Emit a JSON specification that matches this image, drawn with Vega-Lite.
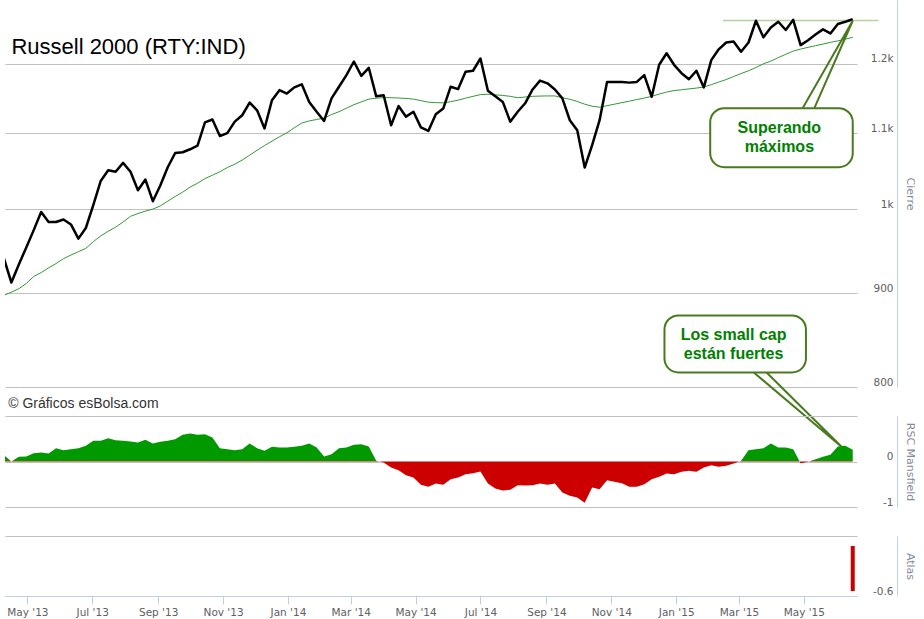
{
  "$schema": "https://vega.github.io/schema/vega-lite/v6.json",
  "background": "white",
  "padding": {"left": 5, "top": 0, "right": 0, "bottom": 0},
  "config": {"view": {"stroke": null}, "font": "Liberation Sans"},
  "spacing": 29,
  "bounds": "flush",
  "datasets": {
    "w": [
      {"d": "2013-04-09", "c": 940, "m": 897.5, "r": 0.139},
      {"d": "2013-04-16", "c": 912, "m": 901, "r": 0},
      {"d": "2013-04-23", "c": 933, "m": 905, "r": 0.103},
      {"d": "2013-04-30", "c": 953, "m": 911, "r": 0.11},
      {"d": "2013-05-07", "c": 974, "m": 919, "r": 0.183},
      {"d": "2013-05-14", "c": 996.5, "m": 923.5, "r": 0.198},
      {"d": "2013-05-21", "c": 984, "m": 929, "r": 0.176},
      {"d": "2013-05-28", "c": 984, "m": 934, "r": 0.293},
      {"d": "2013-06-04", "c": 987, "m": 939.8, "r": 0.249},
      {"d": "2013-06-11", "c": 981, "m": 944, "r": 0.271},
      {"d": "2013-06-18", "c": 963.7, "m": 948, "r": 0.293},
      {"d": "2013-06-25", "c": 976.6, "m": 952, "r": 0.344},
      {"d": "2013-07-02", "c": 1005, "m": 960, "r": 0.454},
      {"d": "2013-07-09", "c": 1036, "m": 967, "r": 0.454},
      {"d": "2013-07-16", "c": 1050, "m": 972.6, "r": 0.513},
      {"d": "2013-07-23", "c": 1048, "m": 977.6, "r": 0.469},
      {"d": "2013-07-30", "c": 1059.7, "m": 984, "r": 0.454},
      {"d": "2013-08-06", "c": 1048, "m": 991, "r": 0.44},
      {"d": "2013-08-13", "c": 1024, "m": 994.5, "r": 0.418},
      {"d": "2013-08-20", "c": 1037.8, "m": 997.5, "r": 0.476},
      {"d": "2013-08-27", "c": 1010, "m": 1000, "r": 0.396},
      {"d": "2013-09-03", "c": 1030, "m": 1004, "r": 0.432},
      {"d": "2013-09-10", "c": 1054, "m": 1010, "r": 0.454},
      {"d": "2013-09-17", "c": 1073, "m": 1016, "r": 0.491},
      {"d": "2013-09-24", "c": 1074, "m": 1021.5, "r": 0.586},
      {"d": "2013-10-01", "c": 1078, "m": 1028, "r": 0.615},
      {"d": "2013-10-08", "c": 1083, "m": 1033, "r": 0.586},
      {"d": "2013-10-15", "c": 1115, "m": 1039, "r": 0.6},
      {"d": "2013-10-22", "c": 1119, "m": 1043.5, "r": 0.527},
      {"d": "2013-10-29", "c": 1096, "m": 1048, "r": 0.293},
      {"d": "2013-11-05", "c": 1100, "m": 1053.5, "r": 0.271},
      {"d": "2013-11-12", "c": 1116, "m": 1058, "r": 0.249},
      {"d": "2013-11-19", "c": 1125, "m": 1063.5, "r": 0.271},
      {"d": "2013-11-26", "c": 1143, "m": 1070, "r": 0.396},
      {"d": "2013-12-03", "c": 1132, "m": 1076.7, "r": 0.293},
      {"d": "2013-12-10", "c": 1106.5, "m": 1083, "r": 0.234},
      {"d": "2013-12-17", "c": 1146.5, "m": 1089, "r": 0.322},
      {"d": "2013-12-24", "c": 1161, "m": 1095, "r": 0.308},
      {"d": "2013-12-31", "c": 1156, "m": 1100.5, "r": 0.308},
      {"d": "2014-01-07", "c": 1165, "m": 1107.5, "r": 0.322},
      {"d": "2014-01-14", "c": 1169.5, "m": 1114, "r": 0.344},
      {"d": "2014-01-21", "c": 1144, "m": 1117, "r": 0.396},
      {"d": "2014-01-28", "c": 1130, "m": 1119, "r": 0.308},
      {"d": "2014-02-04", "c": 1117, "m": 1121, "r": 0.11},
      {"d": "2014-02-11", "c": 1149, "m": 1126, "r": 0.161},
      {"d": "2014-02-18", "c": 1166, "m": 1130, "r": 0.293},
      {"d": "2014-02-25", "c": 1183, "m": 1135, "r": 0.308},
      {"d": "2014-03-04", "c": 1203.5, "m": 1140, "r": 0.366},
      {"d": "2014-03-11", "c": 1182, "m": 1144, "r": 0.381},
      {"d": "2014-03-18", "c": 1194, "m": 1148, "r": 0.33},
      {"d": "2014-03-25", "c": 1152, "m": 1149.3, "r": 0.015},
      {"d": "2014-04-01", "c": 1153.5, "m": 1150.3, "r": -0.022},
      {"d": "2014-04-08", "c": 1111, "m": 1150, "r": -0.132},
      {"d": "2014-04-15", "c": 1138, "m": 1149.6, "r": -0.19},
      {"d": "2014-04-22", "c": 1123, "m": 1149, "r": -0.3},
      {"d": "2014-04-29", "c": 1130, "m": 1148, "r": -0.352},
      {"d": "2014-05-06", "c": 1108, "m": 1145.8, "r": -0.513},
      {"d": "2014-05-13", "c": 1103, "m": 1143.6, "r": -0.557},
      {"d": "2014-05-20", "c": 1126.5, "m": 1143, "r": -0.484},
      {"d": "2014-05-27", "c": 1134.5, "m": 1142.6, "r": -0.513},
      {"d": "2014-06-03", "c": 1166, "m": 1144.3, "r": -0.388},
      {"d": "2014-06-10", "c": 1162.5, "m": 1146.5, "r": -0.352},
      {"d": "2014-06-17", "c": 1188, "m": 1149.4, "r": -0.278},
      {"d": "2014-06-24", "c": 1189.6, "m": 1152, "r": -0.256},
      {"d": "2014-07-01", "c": 1208, "m": 1154.5, "r": -0.22},
      {"d": "2014-07-08", "c": 1160, "m": 1155, "r": -0.484},
      {"d": "2014-07-15", "c": 1152, "m": 1154.2, "r": -0.593},
      {"d": "2014-07-22", "c": 1144, "m": 1153.3, "r": -0.637},
      {"d": "2014-07-29", "c": 1116, "m": 1152, "r": -0.623},
      {"d": "2014-08-05", "c": 1130, "m": 1150, "r": -0.52},
      {"d": "2014-08-12", "c": 1142, "m": 1151, "r": -0.527},
      {"d": "2014-08-19", "c": 1162, "m": 1152, "r": -0.52},
      {"d": "2014-08-26", "c": 1175, "m": 1152.4, "r": -0.484},
      {"d": "2014-09-02", "c": 1171, "m": 1152.6, "r": -0.513},
      {"d": "2014-09-09", "c": 1162, "m": 1152.6, "r": -0.484},
      {"d": "2014-09-16", "c": 1149, "m": 1150, "r": -0.681},
      {"d": "2014-09-23", "c": 1118, "m": 1147.8, "r": -0.755},
      {"d": "2014-09-30", "c": 1104, "m": 1144.6, "r": -0.791},
      {"d": "2014-10-07", "c": 1053.5, "m": 1140.7, "r": -0.908},
      {"d": "2014-10-14", "c": 1083.5, "m": 1137.8, "r": -0.571},
      {"d": "2014-10-21", "c": 1118, "m": 1136.4, "r": -0.608},
      {"d": "2014-10-28", "c": 1173, "m": 1138.6, "r": -0.41},
      {"d": "2014-11-04", "c": 1173, "m": 1140.7, "r": -0.447},
      {"d": "2014-11-11", "c": 1173, "m": 1143, "r": -0.476},
      {"d": "2014-11-18", "c": 1172, "m": 1145, "r": -0.557},
      {"d": "2014-11-25", "c": 1173, "m": 1147.4, "r": -0.557},
      {"d": "2014-12-02", "c": 1183, "m": 1149.5, "r": -0.498},
      {"d": "2014-12-09", "c": 1151.3, "m": 1152, "r": -0.388},
      {"d": "2014-12-16", "c": 1198.5, "m": 1155.3, "r": -0.337},
      {"d": "2014-12-23", "c": 1216, "m": 1158.2, "r": -0.264},
      {"d": "2014-12-30", "c": 1198.5, "m": 1160.4, "r": -0.278},
      {"d": "2015-01-06", "c": 1186, "m": 1161.5, "r": -0.227},
      {"d": "2015-01-13", "c": 1177, "m": 1162.8, "r": -0.205},
      {"d": "2015-01-20", "c": 1189.6, "m": 1164, "r": -0.227},
      {"d": "2015-01-27", "c": 1165, "m": 1165.5, "r": -0.132},
      {"d": "2015-02-03", "c": 1205.6, "m": 1169, "r": -0.081},
      {"d": "2015-02-10", "c": 1222, "m": 1172.8, "r": -0.117},
      {"d": "2015-02-17", "c": 1232.5, "m": 1176.5, "r": -0.095},
      {"d": "2015-02-24", "c": 1234, "m": 1181, "r": -0.044},
      {"d": "2015-03-03", "c": 1218.3, "m": 1185.4, "r": 0.015},
      {"d": "2015-03-10", "c": 1232.5, "m": 1189.5, "r": 0.249},
      {"d": "2015-03-17", "c": 1266.6, "m": 1194.4, "r": 0.271},
      {"d": "2015-03-24", "c": 1240.5, "m": 1200, "r": 0.293},
      {"d": "2015-03-31", "c": 1256, "m": 1204, "r": 0.396},
      {"d": "2015-04-07", "c": 1265, "m": 1209.4, "r": 0.308},
      {"d": "2015-04-14", "c": 1252, "m": 1214.4, "r": 0.308},
      {"d": "2015-04-21", "c": 1268, "m": 1219.3, "r": 0.271},
      {"d": "2015-04-28", "c": 1228.5, "m": 1222.4, "r": -0.04},
      {"d": "2015-05-05", "c": 1236, "m": 1225, "r": -0.007},
      {"d": "2015-05-12", "c": 1245, "m": 1227.6, "r": 0.051},
      {"d": "2015-05-19", "c": 1253, "m": 1230, "r": 0.103},
      {"d": "2015-05-26", "c": 1246.6, "m": 1232.7, "r": 0.147},
      {"d": "2015-06-02", "c": 1261.5, "m": 1235, "r": 0.33},
      {"d": "2015-06-09", "c": 1265, "m": 1237.7, "r": 0.344},
      {"d": "2015-06-16", "c": 1269, "m": 1240.5, "r": 0.256}
    ],
    "boxes": [
      {"a": "2015-02-02", "b": "2015-06-16", "top": 1135, "bot": 1054},
      {"a": "2014-12-21", "b": "2015-05-03", "top": 875.2, "bot": 814.7}
    ],
    "tails": [
      {"g": 1, "o": 1, "d": "2015-04-30", "v": 1135.4},
      {"g": 1, "o": 2, "d": "2015-06-16", "v": 1266.6},
      {"g": 1, "o": 3, "d": "2015-05-11", "v": 1135.4},
      {"g": 2, "o": 1, "d": "2015-03-15", "v": 814.7},
      {"g": 2, "o": 2, "d": "2015-06-06", "v": 741.7},
      {"g": 2, "o": 3, "d": "2015-03-27", "v": 814.7}
    ],
    "notes": [
      {"d": "2015-04-08", "v": 1107, "t": "Superando"},
      {"d": "2015-04-08", "v": 1081, "t": "máximos"},
      {"d": "2015-02-24", "v": 853.4, "t": "Los small cap"},
      {"d": "2015-02-24", "v": 834.3, "t": "están fuertes"}
    ]
  },
  "vconcat": [
    {
      "width": 852,
      "height": 387,
      "layer": [
        {
          "data": {"name": "w"},
          "mark": {"type": "line", "color": "#339933", "strokeWidth": 1, "clip": true},
          "encoding": {
            "x": {"field": "d", "type": "temporal", "axis": null,
              "scale": {"type": "utc", "domain": [{"year": 2013, "month": 4, "date": 10, "utc": true}, {"year": 2015, "month": 6, "date": 20, "utc": true}]}},
            "y": {
              "field": "m", "type": "quantitative", "title": "Cierre",
              "scale": {"type": "log", "domain": [800, 1300], "nice": false},
              "axis": {
                "orient": "right", "offset": 40,
                "values": [800, 900, 1000, 1100, 1200],
                "labelExpr": "datum.value >= 1000 ? (datum.value / 1000) + 'k' : '' + datum.value",
                "labelAlign": "right", "labelPadding": -4, "labelBaseline": "bottom",
                "labelColor": "#606060", "labelFont": "DejaVu Sans", "labelFontSize": 10.5,
                "ticks": false, "domainColor": "#C0D0E0", "gridColor": "#C0C0C0",
                "titleAngle": 90, "titleColor": "#7f8c99", "titleFont": "DejaVu Sans",
                "titleFontSize": 11, "titleFontWeight": "normal", "titlePadding": 7
              }
            }
          }
        },
        {
          "data": {"values": [{"a": "2015-02-14", "b": "2015-07-10", "v": 1267}]},
          "mark": {"type": "rule", "color": "#b3d39c", "strokeWidth": 1.5},
          "encoding": {
            "x": {"field": "a", "type": "temporal"},
            "x2": {"field": "b"},
            "y": {"field": "v", "type": "quantitative", "title": "Cierre"}
          }
        },
        {
          "data": {"name": "w"},
          "mark": {"type": "line", "color": "#000000", "strokeWidth": 2.5, "strokeJoin": "round", "clip": true},
          "encoding": {
            "x": {"field": "d", "type": "temporal"},
            "y": {"field": "c", "type": "quantitative", "title": "Cierre"}
          }
        },
        {
          "data": {"name": "tails"},
          "mark": {"type": "line", "color": "#4a7a1e", "strokeWidth": 2},
          "encoding": {
            "x": {"field": "d", "type": "temporal"},
            "y": {"field": "v", "type": "quantitative", "title": "Cierre"},
            "detail": {"field": "g"},
            "order": {"field": "o"}
          }
        },
        {
          "data": {"name": "boxes"},
          "mark": {"type": "rect", "fill": "white", "stroke": "#4a7a1e", "strokeWidth": 2, "cornerRadius": 14},
          "encoding": {
            "x": {"field": "a", "type": "temporal"},
            "x2": {"field": "b"},
            "y": {"field": "top", "type": "quantitative", "title": "Cierre"},
            "y2": {"field": "bot"}
          }
        },
        {
          "data": {"name": "notes"},
          "mark": {"type": "text", "font": "Liberation Sans", "fontSize": 16, "fontWeight": "bold", "color": "#008000", "align": "center", "baseline": "middle"},
          "encoding": {
            "x": {"field": "d", "type": "temporal"},
            "y": {"field": "v", "type": "quantitative", "title": "Cierre"},
            "text": {"field": "t"}
          }
        },
        {
          "data": {"values": [{"d": "2013-04-16", "v": 1225.5, "t": "Russell 2000 (RTY:IND)"}]},
          "mark": {"type": "text", "font": "Liberation Sans", "fontSize": 22, "color": "#000000", "align": "left", "baseline": "middle"},
          "encoding": {
            "x": {"field": "d", "type": "temporal"},
            "y": {"field": "v", "type": "quantitative", "title": "Cierre"},
            "text": {"field": "t"}
          }
        },
        {
          "data": {"values": [{"d": "2013-04-13", "v": 783.5, "t": "© Gráficos esBolsa.com"}]},
          "mark": {"type": "text", "font": "Liberation Sans", "fontSize": 14, "color": "#333333", "align": "left", "baseline": "middle"},
          "encoding": {
            "x": {"field": "d", "type": "temporal"},
            "y": {"field": "v", "type": "quantitative", "title": "Cierre"},
            "text": {"field": "t"}
          }
        }
      ]
    },
    {
      "width": 852,
      "height": 91,
      "data": {"name": "w"},
      "mark": {
        "type": "area", "clip": true,
        "fill": {
          "gradient": "linear", "x1": 0, "y1": 0, "x2": 0, "y2": 1,
          "stops": [
            {"offset": 0, "color": "#009900"},
            {"offset": 0.4038, "color": "#009900"},
            {"offset": 0.4038, "color": "#cc0000"},
            {"offset": 1, "color": "#cc0000"}
          ]
        }
      },
      "encoding": {
        "x": {"field": "d", "type": "temporal", "axis": null,
          "scale": {"type": "utc", "domain": [{"year": 2013, "month": 4, "date": 10, "utc": true}, {"year": 2015, "month": 6, "date": 20, "utc": true}]}},
        "y": {
          "field": "r", "type": "quantitative", "title": "RSC Mansfield",
          "scale": {"domain": [-1, 1], "nice": false},
          "axis": {
            "orient": "right", "offset": 40,
            "values": [-1, 0, 1],
            "labelExpr": "datum.value == 0 ? '0' : datum.value == -1 ? '-1' : ''",
            "labelAlign": "right", "labelPadding": -4, "labelBaseline": "bottom",
            "labelColor": "#606060", "labelFont": "DejaVu Sans", "labelFontSize": 10.5,
            "ticks": false, "domainColor": "#C0D0E0", "gridColor": "#C0C0C0",
            "titleAngle": 90, "titleColor": "#7f8c99", "titleFont": "DejaVu Sans",
            "titleFontSize": 11, "titleFontWeight": "normal", "titlePadding": 7
          }
        },
        "y2": {"datum": 0}
      }
    },
    {
      "width": 852,
      "height": 60,
      "data": {"values": [{"d": "2015-06-16", "a": -0.1, "b": -0.55}]},
      "mark": {"type": "rule", "color": "#cc0000", "strokeWidth": 4},
      "encoding": {
        "x": {
          "field": "d", "type": "temporal",
          "scale": {"type": "utc", "domain": [{"year": 2013, "month": 4, "date": 10, "utc": true}, {"year": 2015, "month": 6, "date": 20, "utc": true}]},
          "axis": {
            "values": [
              {"year": 2013, "month": 5, "date": 1, "utc": true},
              {"year": 2013, "month": 7, "date": 1, "utc": true},
              {"year": 2013, "month": 9, "date": 1, "utc": true},
              {"year": 2013, "month": 11, "date": 1, "utc": true},
              {"year": 2014, "month": 1, "date": 1, "utc": true},
              {"year": 2014, "month": 3, "date": 1, "utc": true},
              {"year": 2014, "month": 5, "date": 1, "utc": true},
              {"year": 2014, "month": 7, "date": 1, "utc": true},
              {"year": 2014, "month": 9, "date": 1, "utc": true},
              {"year": 2014, "month": 11, "date": 1, "utc": true},
              {"year": 2015, "month": 1, "date": 1, "utc": true},
              {"year": 2015, "month": 3, "date": 1, "utc": true},
              {"year": 2015, "month": 5, "date": 1, "utc": true}
            ],
            "labelExpr": "utcFormat(datum.value, \"%b '%y\")",
            "title": null, "grid": false, "labelFlush": false, "labelOverlap": false,
            "domainColor": "#C0D0E0", "tickColor": "#C0D0E0", "tickSize": 8,
            "labelColor": "#606060", "labelFont": "DejaVu Sans", "labelFontSize": 10.5, "labelPadding": 3
          }
        },
        "y": {
          "field": "a", "type": "quantitative", "title": "Atlas",
          "scale": {"domain": [-0.6, 0], "nice": false},
          "axis": {
            "orient": "right", "offset": 40,
            "values": [-0.6, 0],
            "labelExpr": "datum.value < -0.5 ? '-0.6' : ''",
            "labelAlign": "right", "labelPadding": -4, "labelBaseline": "bottom",
            "labelColor": "#606060", "labelFont": "DejaVu Sans", "labelFontSize": 10.5,
            "ticks": false, "domainColor": "#C0D0E0", "gridColor": "#C0C0C0",
            "titleAngle": 90, "titleColor": "#7f8c99", "titleFont": "DejaVu Sans",
            "titleFontSize": 11, "titleFontWeight": "normal", "titlePadding": 7
          }
        },
        "y2": {"field": "b"}
      }
    }
  ]
}
